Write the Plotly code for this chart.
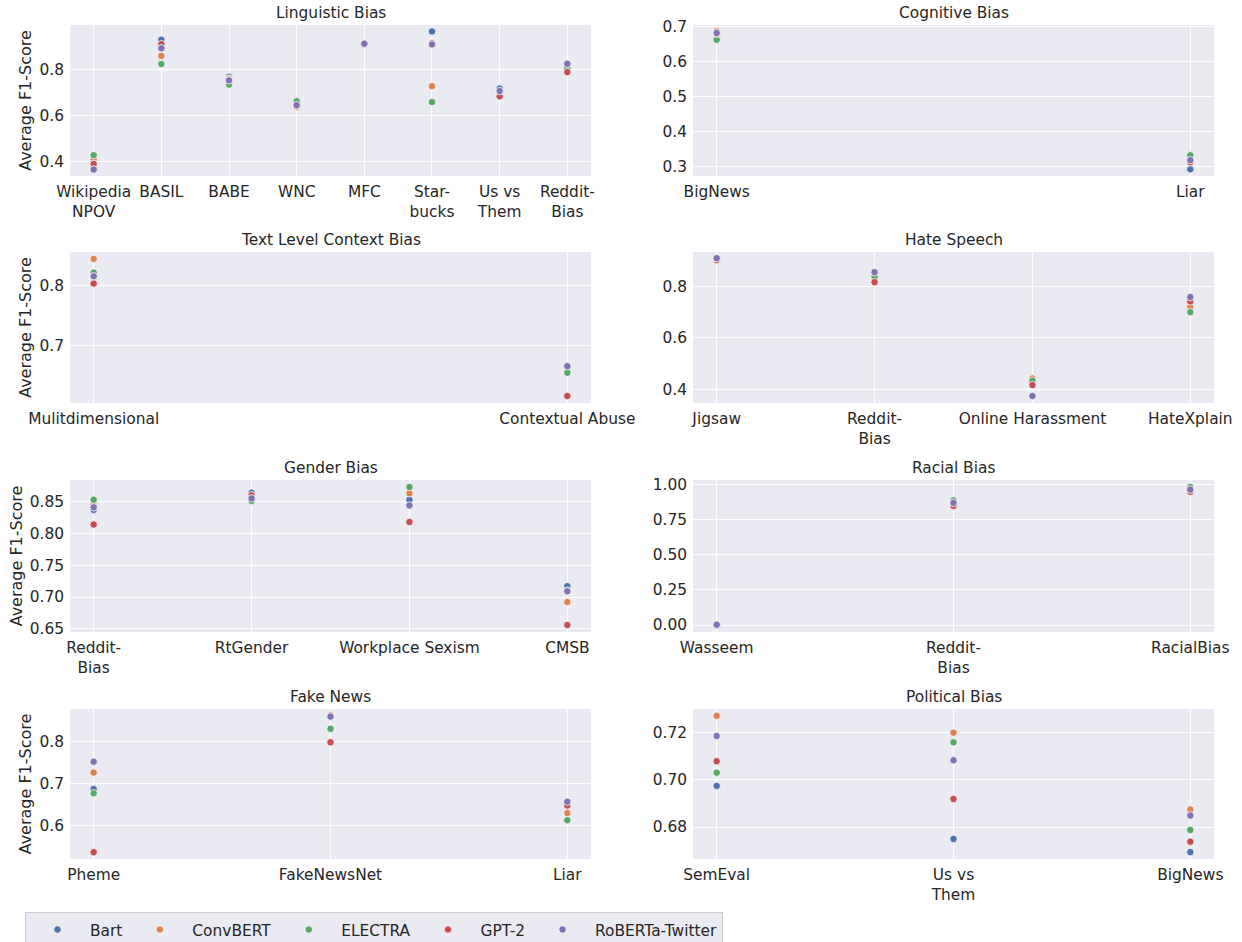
import plotly.graph_objects as go

# ---------------- data ----------------
MODELS = ["Bart", "ConvBERT", "ELECTRA", "GPT-2", "RoBERTa-Twitter"]
COLORS = ["#4C72B0", "#DD8452", "#55A868", "#C44E52", "#8172B3"]

LING_CATS = ["Wikipedia NPOV", "BASIL", "BABE", "WNC", "MFC", "Starbucks", "Us vs Them", "Reddit-Bias"]
LING_LABELS = ["Wikipedia<br>NPOV", "BASIL", "BABE", "WNC", "MFC", "Star-<br>bucks", "Us vs<br>Them", "Reddit-<br>Bias"]
LING = {
    "Bart":            [0.370, 0.928, 0.768, 0.650, 0.911, 0.964, 0.717, 0.801],
    "ConvBERT":        [0.410, 0.858, 0.760, 0.636, 0.911, 0.727, 0.686, 0.792],
    "ELECTRA":         [0.428, 0.823, 0.734, 0.662, 0.911, 0.658, 0.700, 0.805],
    "GPT-2":           [0.390, 0.909, 0.755, 0.640, 0.911, 0.913, 0.683, 0.788],
    "RoBERTa-Twitter": [0.366, 0.891, 0.752, 0.645, 0.911, 0.908, 0.706, 0.824],
}

COG_CATS = ["BigNews", "Liar"]
COG_LABELS = ["BigNews", "Liar"]
COG = {
    "Bart":            [0.684, 0.293],
    "ConvBERT":        [0.687, 0.316],
    "ELECTRA":         [0.663, 0.333],
    "GPT-2":           [0.680, 0.313],
    "RoBERTa-Twitter": [0.682, 0.319],
}

TEXT_CATS = ["Mulitdimensional", "Contextual Abuse"]
TEXT_LABELS = ["Mulitdimensional", "Contextual Abuse"]
TEXT = {
    "Bart":            [0.816, 0.663],
    "ConvBERT":        [0.844, 0.655],
    "ELECTRA":         [0.821, 0.654],
    "GPT-2":           [0.803, 0.615],
    "RoBERTa-Twitter": [0.815, 0.665],
}

HATE_CATS = ["Jigsaw", "Reddit-Bias", "Online Harassment", "HateXplain"]
HATE_LABELS = ["Jigsaw", "Reddit-<br>Bias", "Online Harassment", "HateXplain"]
HATE = {
    "Bart":            [0.910, 0.850, 0.420, 0.755],
    "ConvBERT":        [0.906, 0.830, 0.442, 0.721],
    "ELECTRA":         [0.908, 0.839, 0.433, 0.701],
    "GPT-2":           [0.905, 0.818, 0.416, 0.743],
    "RoBERTa-Twitter": [0.912, 0.857, 0.373, 0.760],
}

GEN_CATS = ["Reddit-Bias", "RtGender", "Workplace Sexism", "CMSB"]
GEN_LABELS = ["Reddit-<br>Bias", "RtGender", "Workplace Sexism", "CMSB"]
GEN = {
    "Bart":            [0.837, 0.864, 0.853, 0.717],
    "ConvBERT":        [0.845, 0.858, 0.863, 0.692],
    "ELECTRA":         [0.853, 0.851, 0.873, 0.710],
    "GPT-2":           [0.814, 0.860, 0.818, 0.656],
    "RoBERTa-Twitter": [0.841, 0.855, 0.844, 0.709],
}

RACE_CATS = ["Wasseem", "Reddit-Bias", "RacialBias"]
RACE_LABELS = ["Wasseem", "Reddit-<br>Bias", "RacialBias"]
RACE = {
    "Bart":            [0.003, 0.870, 0.970],
    "ConvBERT":        [0.003, 0.860, 0.955],
    "ELECTRA":         [0.003, 0.885, 0.980],
    "GPT-2":           [0.003, 0.846, 0.946],
    "RoBERTa-Twitter": [0.003, 0.868, 0.962],
}

FAKE_CATS = ["Pheme", "FakeNewsNet", "Liar"]
FAKE_LABELS = ["Pheme", "FakeNewsNet", "Liar"]
FAKE = {
    "Bart":            [0.687, 0.858, 0.655],
    "ConvBERT":        [0.726, 0.862, 0.630],
    "ELECTRA":         [0.677, 0.830, 0.613],
    "GPT-2":           [0.537, 0.798, 0.648],
    "RoBERTa-Twitter": [0.752, 0.859, 0.657],
}

POL_CATS = ["SemEval", "Us vs Them", "BigNews"]
POL_LABELS = ["SemEval", "Us vs<br>Them", "BigNews"]
POL = {
    "Bart":            [0.6974, 0.6750, 0.6694],
    "ConvBERT":        [0.7270, 0.7199, 0.6874],
    "ELECTRA":         [0.7030, 0.7158, 0.6788],
    "GPT-2":           [0.7078, 0.6919, 0.6738],
    "RoBERTa-Twitter": [0.7185, 0.7082, 0.6849],
}

TITLES = ["Linguistic Bias", "Cognitive Bias", "Text Level Context Bias", "Hate Speech",
          "Gender Bias", "Racial Bias", "Fake News", "Political Bias"]

# ---------------- layout helpers ----------------
W, H = 1242, 942
def fx(px):
    return px / W
def fy(px):
    return 1 - px / H

COLS = [(70, 591), (693, 1214)]
ROWS = [(25, 176), (252, 403), (480, 632), (709, 859)]
TEXT_COLOR = "#262626"
FONT = "DejaVu Sans"
FS = 15.4

panels = [
    (LING_CATS, LING_LABELS, LING, [0.338, 0.992], [0.4, 0.6, 0.8], ".1f"),
    (COG_CATS, COG_LABELS, COG, [0.274, 0.705], [0.3, 0.4, 0.5, 0.6, 0.7], ".1f"),
    (TEXT_CATS, TEXT_LABELS, TEXT, [0.6035, 0.8555], [0.7, 0.8], ".1f"),
    (HATE_CATS, HATE_LABELS, HATE, [0.346, 0.936], [0.4, 0.6, 0.8], ".1f"),
    (GEN_CATS, GEN_LABELS, GEN, [0.645, 0.884], [0.65, 0.70, 0.75, 0.80, 0.85], ".2f"),
    (RACE_CATS, RACE_LABELS, RACE, [-0.049, 1.030], [0.0, 0.25, 0.5, 0.75, 1.0], ".2f"),
    (FAKE_CATS, FAKE_LABELS, FAKE, [0.521, 0.877], [0.6, 0.7, 0.8], ".1f"),
    (POL_CATS, POL_LABELS, POL, [0.6665, 0.7299], [0.68, 0.70, 0.72], ".2f"),
]

fig = go.Figure()
annotations = []
layout_axes = {}

for i, (cats, labels, data, yr, yticks, fmt) in enumerate(panels):
    r, c = divmod(i, 2)
    x0, x1 = COLS[c]
    y0, y1 = ROWS[r]
    xa = "x" if i == 0 else f"x{i+1}"
    ya = "y" if i == 0 else f"y{i+1}"
    xkey = "xaxis" if i == 0 else f"xaxis{i+1}"
    ykey = "yaxis" if i == 0 else f"yaxis{i+1}"
    for m, col in zip(MODELS, COLORS):
        fig.add_trace(go.Scatter(
            x=cats, y=data[m], mode="markers", name=m,
            marker=dict(color=col, size=7.5, line=dict(color="white", width=0.8)),
            xaxis=xa, yaxis=ya, showlegend=(i == 0), legendgroup=m,
        ))
    n = len(cats)
    pad = 0.05 * (n - 1)
    layout_axes[xkey] = dict(
        domain=[fx(x0), fx(x1)], anchor=ya, type="category",
        categoryorder="array", categoryarray=cats,
        range=[-pad, n - 1 + pad], automargin=False,
        tickmode="array", tickvals=cats, ticktext=labels, ticklabelstandoff=5,
        showgrid=True, gridcolor="white", gridwidth=1, zeroline=False,
        showline=False, ticks="", tickfont=dict(family=FONT, size=FS, color=TEXT_COLOR),
    )
    layout_axes[ykey] = dict(
        domain=[fy(y1), fy(y0)], anchor=xa, range=yr, automargin=False,
        tickmode="array", tickvals=yticks, tickformat=fmt, ticklabelstandoff=5,
        showgrid=True, gridcolor="white", gridwidth=1, zeroline=False,
        showline=False, ticks="", tickfont=dict(family=FONT, size=FS, color=TEXT_COLOR),
    )
    if c == 0:
        layout_axes[ykey]["title"] = dict(text="Average F1-Score",
                                          font=dict(family=FONT, size=16, color=TEXT_COLOR),
                                          standoff=3)
    annotations.append(dict(
        text=TITLES[i], xref="paper", yref="paper",
        x=(fx(x0) + fx(x1)) / 2, y=fy(y0), xanchor="center", yanchor="bottom",
        yshift=1, showarrow=False, font=dict(family=FONT, size=FS, color=TEXT_COLOR),
    ))

fig.update_layout(
    width=W, height=H,
    margin=dict(l=0, r=0, t=0, b=0, autoexpand=False),
    paper_bgcolor="white", plot_bgcolor="#EAEAF2",
    font=dict(family=FONT, size=FS, color=TEXT_COLOR),
    annotations=annotations,
    legend=dict(
        orientation="h", x=fx(25), xanchor="left", y=fy(912), yanchor="top",
        bgcolor="#EAEAF2", bordercolor="#CCCCCC", borderwidth=1,
        font=dict(family=FONT, size=FS, color=TEXT_COLOR), itemwidth=55,
    ),
    **layout_axes,
)

fig.write_html("out.html", config={"displayModeBar": False},
               post_script="document.body.style.margin='0px';document.body.style.overflow='hidden';")
